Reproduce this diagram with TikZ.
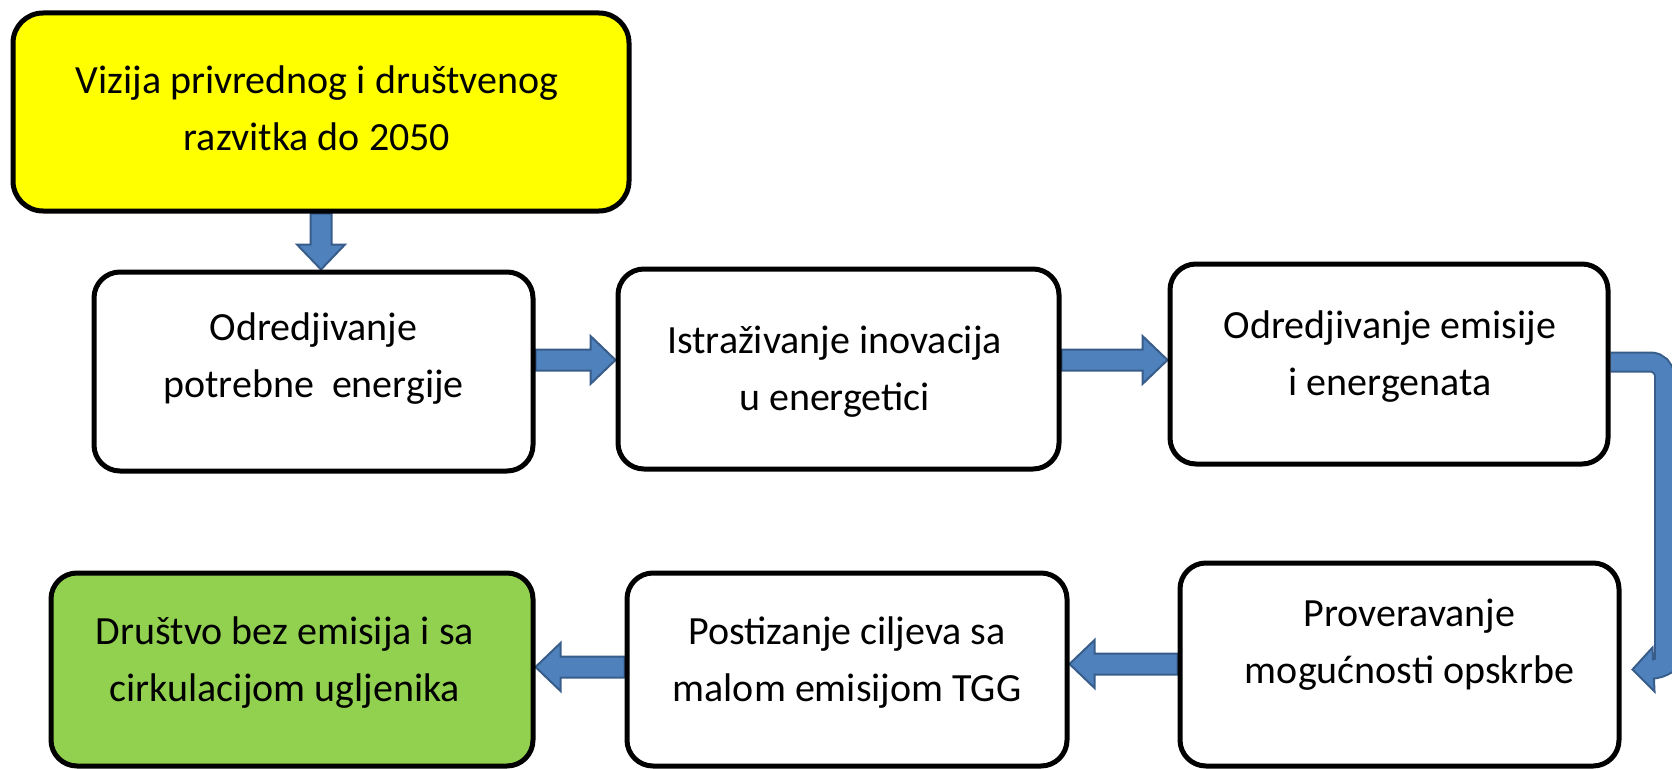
\documentclass[tikz,border=0pt]{standalone}
\usepackage{fontspec}
\setmainfont{Carlito}
\usetikzlibrary{calc}
\pgfdeclarelayer{background}
\pgfsetlayers{background,main}
\definecolor{arrfill}{RGB}{79,129,189}
\definecolor{arrline}{RGB}{56,93,138}
\definecolor{vyellow}{RGB}{255,255,0}
\definecolor{vgreen}{RGB}{146,208,80}
\newcommand\fatarr[2]{%
  \path (#1) coordinate (fa-t) (#2) coordinate (fa-p);
  \path ($(fa-p)!25pt!(fa-t)$) coordinate (fa-h);
  \draw[fatarrow] ($(fa-t)!10.5pt!90:(fa-p)$) -- ($(fa-h)!10.5pt!90:(fa-p)$)
    -- ($(fa-h)!24pt!90:(fa-p)$) -- (fa-p) -- ($(fa-h)!24pt!-90:(fa-p)$)
    -- ($(fa-h)!10.5pt!-90:(fa-p)$) -- ($(fa-t)!10.5pt!-90:(fa-p)$) -- cycle;}
\begin{document}
\begin{tikzpicture}[x=1pt,y=-1pt,
  box/.style={draw=black, line width=5pt, rounded corners=26pt, fill=white, inner sep=0pt},
  txt/.style={align=center, font=\fontsize{40}{57}\selectfont, inner sep=0pt},
  fatarrow/.style={fill=arrfill, draw=arrline, line width=2pt, line join=miter}]
\useasboundingbox (0,0) rectangle (1672,768);
% boxes
\node[box, fill=vyellow, rounded corners=30pt, minimum width=616pt, minimum height=198pt] (vis) at (321,112) {};
\node[box, minimum width=439pt, minimum height=199pt] (b2) at (313.5,371.5) {};
\node[box, minimum width=441pt, minimum height=200pt] (b3) at (838.5,369) {};
\node[box, minimum width=438pt, minimum height=200pt] (b4) at (1389,364) {};
\node[box, minimum width=439pt, minimum height=203pt] (b5) at (1399.5,664.5) {};
\node[box, minimum width=440pt, minimum height=193pt] (b6) at (847,669.5) {};
\node[box, fill=vgreen, minimum width=482pt, minimum height=193pt] (b7) at (292,669.5) {};
% texts
\node[txt] (visT) at ($(vis.center)+(-4,-4)$) {Vizija privrednog i društvenog\\razvitka do 2050};
\node[txt] (b2T) at ($(b2.center)+(0,-13)$) {Odredjivanje\\potrebne~ energije};
\node[txt] (b3T) at ($(b3.center)+(-4,3)$) {Istraživanje inovacija\\u energetici};
\node[txt] (b4T) at ($(b4.center)+(1,-7)$) {Odredjivanje emisije\\i energenata};
\node[txt] (b5T) at ($(b5.center)+(10,-20)$) {Proveravanje\\mogućnosti opskrbe};
\node[txt] (b6T) at ($(b6.center)+(0,-7)$) {Postizanje ciljeva sa\\malom emisijom TGG};
\node[txt] (b7T) at ($(b7.center)+(-7,-7)$) {Društvo bez emisija i sa\\cirkulacijom ugljenika};
% arrow levels
\coordinate (y23) at (0,360);
\coordinate (y34) at (0,360);
\coordinate (y56) at (0,664);
\coordinate (y67) at (0,667);
\coordinate (ybent) at (0,362);
\begin{pgfonlayer}{background}
\fatarr{vis.south}{vis.south |- b2.north}
\fatarr{b2.east |- y23}{b3.west |- y23}
\fatarr{b3.east |- y34}{b4.west |- y34}
\fatarr{b5.west |- y56}{b6.east |- y56}
\fatarr{b6.west |- y67}{b7.east |- y67}
% bent arrow from b4 to b5
\path (b4.east |- ybent) coordinate (bs);
\coordinate (bc) at ($(bs)+(54,0)$);
\coordinate (btip) at ($(b5.east)+(11,5)$);
\coordinate (bbase) at ($(btip)+(20,0)$);
\coordinate (bend) at ($(btip)+(14,0)$);
\coordinate (bdown) at (bc |- {$(btip)+(0,-18)$});
\draw[arrline, line width=21pt] (bs) [rounded corners=14pt] -- (bc) -- (bdown) [sharp corners]
  .. controls ($(bdown)+(0,14)$) and ($(bbase)+(6,0)$) .. (bend);
\draw[fatarrow] ($(bbase)+(0,-22)$) -- (btip) -- ($(bbase)+(2,22)$) -- cycle;
\draw[arrfill, line width=17pt] (bs) [rounded corners=14pt] -- (bc) -- (bdown) [sharp corners]
  .. controls ($(bdown)+(0,14)$) and ($(bbase)+(6,0)$) .. (bend);
\end{pgfonlayer}
\end{tikzpicture}
\end{document}
